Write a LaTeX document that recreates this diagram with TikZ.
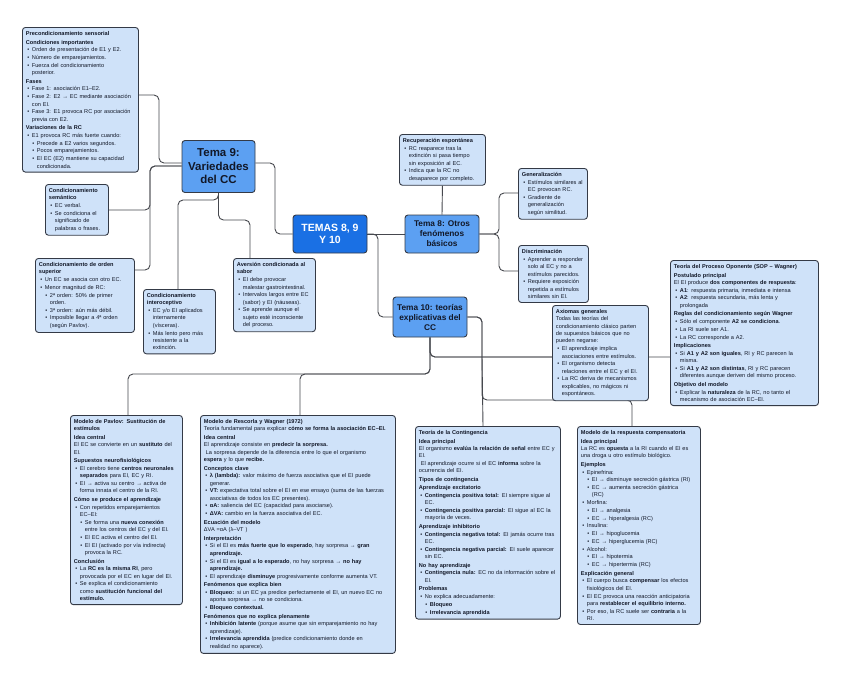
\documentclass[tikz,border=0pt]{standalone}
\usepackage{fontspec}
\setmainfont{Liberation Sans}
\usetikzlibrary{calc}
\definecolor{leafc}{RGB}{207,226,249}
\definecolor{bord}{RGB}{52,58,70}
\definecolor{midc}{RGB}{92,160,242}
\definecolor{deepc}{RGB}{26,112,228}
\definecolor{ink}{RGB}{18,24,40}
\definecolor{wire}{RGB}{70,72,78}
\pgfdeclarelayer{bg}
\pgfsetlayers{bg,main}
\hyphenpenalty=10000
\exhyphenpenalty=10000
\newcommand{\nl}{\newline}
\newcommand{\hd}[1]{\par\vskip1.2pt\noindent\textbf{#1}\par}
\newcommand{\ttl}[1]{\noindent\textbf{#1}\par}
\newcommand{\tx}[1]{\par\noindent #1\par}
\newcommand{\bi}[1]{\par\vskip0.4pt\noindent\hangindent=6pt\hangafter=1\hspace*{1.5pt}\makebox[4.5pt][l]{•}#1\par}
\newcommand{\bii}[1]{\par\vskip0.4pt\noindent\hangindent=11pt\hangafter=1\hspace*{6.5pt}\makebox[4.5pt][l]{•}#1\par}
\newcommand{\leaffont}{\fontsize{5.6}{7.35}\selectfont}
\tikzset{
  leaf/.style={draw=bord, fill=leafc, rounded corners=3pt, line width=0.9pt,
    inner xsep=3.5pt, inner ysep=4pt, anchor=north west, align=left, text=ink,
    font=\leaffont},
  topic/.style={draw=bord, fill=midc, rounded corners=3pt, line width=0.9pt,
    align=center, text=ink, inner sep=2pt},
  root/.style={draw=bord, fill=deepc, rounded corners=3pt, line width=0.9pt,
    align=center, text=white, inner sep=2pt},
  conn/.style={draw=wire, line width=0.9pt, rounded corners=5pt}
}
\begin{document}
\begin{tikzpicture}[x=1pt,y=-1pt]
\useasboundingbox (0,0) rectangle (848,681);
\begin{pgfonlayer}{bg}
\fill[white] (0,0) rectangle (848,681);
\end{pgfonlayer}

% main nodes
\node[root, minimum width=74pt, minimum height=38pt, font=\bfseries\fontsize{10.5}{12.5}\selectfont] (tem) at (330,234) {TEMAS 8, 9\\Y 10};
\node[topic, minimum width=73pt, minimum height=52pt, font=\bfseries\fontsize{11.5}{13.5}\selectfont] (t9) at (218.5,166.5) {Tema 9:\\Variedades\\del CC};
\node[topic, minimum width=74pt, minimum height=38pt, font=\bfseries\fontsize{8.3}{10}\selectfont] (t8) at (442,234) {Tema 8: Otros\\fenómenos\\básicos};
\node[topic, minimum width=74pt, minimum height=40pt, font=\bfseries\fontsize{8.3}{10}\selectfont] (t10) at (430,317) {Tema 10: teorías\\explicativas del\\CC};

% leaves
\node[leaf, text width=109pt] (pre) at (22,27) {%
\ttl{Precondicionamiento sensorial}
\hd{Condiciones importantes}
\bi{Orden de presentación de E1 y E2.}
\bi{Número de emparejamientos.}
\bi{Fuerza del condicionamiento\nl posterior.}
\hd{Fases}
\bi{Fase 1: asociación E1–E2.}
\bi{Fase 2: E2 → EC mediante asociación\nl con EI.}
\bi{Fase 3: E1 provoca RC por asociación\nl previa con E2.}
\hd{Variaciones de la RC}
\bi{E1 provoca RC más fuerte cuando:}
\bii{Precede a E2 varios segundos.}
\bii{Pocos emparejamientos.}
\bii{El EC (E2) mantiene su capacidad\nl condicionada.}};

\node[leaf, text width=56pt] (sem) at (45,184) {%
\ttl{Condicionamiento\nl semántico}
\bi{EC verbal.}
\bi{Se condiciona el\nl significado de\nl palabras o frases.}};

\node[leaf, text width=92pt] (ord) at (35,258) {%
\ttl{Condicionamiento de orden\nl superior}
\bi{Un EC se asocia con otro EC.}
\bi{Menor magnitud de RC:}
\bii{2ª orden: 50\% de primer\nl orden.}
\bii{3ª orden: aún más débil.}
\bii{Imposible llegar a 4ª orden\nl (según Pavlov).}};

\node[leaf, text width=65pt] (int) at (143,289) {%
\ttl{Condicionamiento\nl interoceptivo}
\bi{EC y/o EI aplicados\nl internamente\nl (vísceras).}
\bi{Más lento pero más\nl resistente a la\nl extinción.}};

\node[leaf, text width=75pt] (ave) at (233,258) {%
\ttl{Aversión condicionada al\nl sabor}
\bi{EI debe provocar\nl malestar gastrointestinal.}
\bi{Intervalos largos entre EC\nl (sabor) y EI (náuseas).}
\bi{Se aprende aunque el\nl sujeto esté inconsciente\nl del proceso.}};

\node[leaf, text width=79pt] (rec) at (399,134) {%
\ttl{Recuperación espontánea}
\bi{RC reaparece tras la\nl extinción si pasa tiempo\nl sin exposición al EC.}
\bi{Indica que la RC no\nl desaparece por completo.}};

\node[leaf, text width=62pt] (gen) at (518,168) {%
\ttl{Generalización}
\bi{Estímulos similares al\nl EC provocan RC.}
\bi{Gradiente de\nl generalización\nl según similitud.}};

\node[leaf, text width=63pt] (dis) at (518,245) {%
\ttl{Discriminación}
\bi{Aprender a responder\nl solo al EC y no a\nl estímulos parecidos.}
\bi{Requiere exposición\nl repetida a estímulos\nl similares sin EI.}};

\node[leaf, text width=141pt] (sop) at (670,260) {%
\ttl{Teoría del Proceso Oponente (SOP – Wagner)}
\hd{Postulado principal}
\tx{El EI produce \textbf{dos componentes de respuesta}:}
\bi{\textbf{A1}: respuesta primaria, inmediata e intensa}
\bi{\textbf{A2}: respuesta secundaria, más lenta y\nl prolongada}
\hd{Reglas del condicionamiento según Wagner}
\bi{Sólo el componente \textbf{A2 se condiciona}.}
\bi{La RI suele ser A1.}
\bi{La RC corresponde a A2.}
\hd{Implicaciones}
\bi{Si \textbf{A1 y A2 son iguales}, RI y RC parecen la\nl misma.}
\bi{Si \textbf{A1 y A2 son distintas}, RI y RC parecen\nl diferentes aunque deriven del mismo proceso.}
\hd{Objetivo del modelo}
\bi{Explicar la \textbf{naturaleza} de la RC, no tanto el\nl mecanismo de asociación EC–EI.}};

\node[leaf, text width=89pt] (axi) at (552,305) {%
\ttl{Axiomas generales}
\tx{Todas las teorías del\nl condicionamiento clásico parten\nl de supuestos básicos que no\nl pueden negarse:}
\bi{El aprendizaje implica\nl asociaciones entre estímulos.}
\bi{El organismo detecta\nl relaciones entre el EC y el EI.}
\bi{La RC deriva de mecanismos\nl explicables, no mágicos ni\nl espontáneos.}};

\node[leaf, text width=105pt] (pav) at (70,415) {%
\ttl{Modelo de Pavlov: Sustitución de\nl estímulos}
\hd{Idea central}
\tx{El EC se convierte en un \textbf{sustituto} del\nl EI.}
\hd{Supuestos neurofisiológicos}
\bi{El cerebro tiene \textbf{centros neuronales\nl separados} para EI, EC y RI.}
\bi{EI → activa su centro → activa de\nl forma innata el centro de la RI.}
\hd{Cómo se produce el aprendizaje}
\bi{Con repetidos emparejamientos\nl EC–EI:}
\bii{Se forma una \textbf{nueva conexión}\nl entre los centros del EC y del EI.}
\bii{El EC activa el centro del EI.}
\bii{El EI (activado por vía indirecta)\nl provoca la RC.}
\hd{Conclusión}
\bi{La \textbf{RC es la misma RI}, pero\nl provocada por el EC en lugar del EI.}
\bi{Se explica el condicionamiento\nl como \textbf{sustitución funcional del\nl estímulo.}}};

\node[leaf, text width=188pt] (res) at (200,415) {%
\ttl{Modelo de Rescorla y Wagner (1972)}
\tx{Teoría fundamental para explicar \textbf{cómo se forma la asociación EC–EI.}}
\hd{Idea central}
\tx{El aprendizaje consiste en \textbf{predecir la sorpresa.}}
\tx{\ La sorpresa depende de la diferencia entre lo que el organismo\nl \textbf{espera} y lo que \textbf{recibe.}}
\hd{Conceptos clave}
\bi{\textbf{λ (lambda):} valor máximo de fuerza asociativa que el EI puede\nl generar.}
\bi{\textbf{VT:} expectativa total sobre el EI en ese ensayo (suma de las fuerzas\nl asociativas de todos los EC presentes).}
\bi{\textbf{αA:} saliencia del EC (capacidad para asociarse).}
\bi{\textbf{ΔVA:} cambio en la fuerza asociativa del EC.}
\hd{Ecuación del modelo}
\tx{ΔVA =αA (λ–VT )}
\hd{Interpretación}
\bi{Si el EI es \textbf{más fuerte que lo esperado}, hay sorpresa → \textbf{gran\nl aprendizaje.}}
\bi{Si el EI es \textbf{igual a lo esperado}, no hay sorpresa → \textbf{no hay\nl aprendizaje.}}
\bi{El aprendizaje \textbf{disminuye} progresivamente conforme aumenta VT.}
\hd{Fenómenos que explica bien}
\bi{\textbf{Bloqueo:} si un EC ya predice perfectamente el EI, un nuevo EC no\nl aporta sorpresa → no se condiciona.}
\bi{\textbf{Bloqueo contextual.}}
\hd{Fenómenos que no explica plenamente}
\bi{\textbf{Inhibición latente} (porque asume que sin emparejamiento no hay\nl aprendizaje).}
\bi{\textbf{Irrelevancia aprendida} (predice condicionamiento donde en\nl realidad no aparece).}};

\node[leaf, text width=138pt] (con) at (415,426) {%
\ttl{Teoría de la Contingencia}
\hd{Idea principal}
\tx{El organismo \textbf{evalúa la relación de señal} entre EC y\nl EI.}
\tx{\ El aprendizaje ocurre si el EC \textbf{informa} sobre la\nl ocurrencia del EI.}
\hd{Tipos de contingencia}
\hd{Aprendizaje excitatorio}
\bi{\textbf{Contingencia positiva total:} EI siempre sigue al\nl EC.}
\bi{\textbf{Contingencia positiva parcial:} EI sigue al EC la\nl mayoría de veces.}
\hd{Aprendizaje inhibitorio}
\bi{\textbf{Contingencia negativa total:} EI jamás ocurre tras\nl EC.}
\bi{\textbf{Contingencia negativa parcial:} EI suele aparecer\nl sin EC.}
\hd{No hay aprendizaje}
\bi{\textbf{Contingencia nula:} EC no da información sobre el\nl EI.}
\hd{Problemas}
\bi{No explica adecuadamente:}
\bii{\textbf{Bloqueo}}
\bii{\textbf{Irrelevancia aprendida}}};

\node[leaf, text width=116pt] (com) at (577,426) {%
\ttl{Modelo de la respuesta compensatoria}
\hd{Idea principal}
\tx{La RC es \textbf{opuesta} a la RI cuando el EI es\nl una droga u otro estímulo biológico.}
\hd{Ejemplos}
\bi{Epinefrina:}
\bii{EI → disminuye secreción gástrica (RI)}
\bii{EC → aumenta secreción gástrica\nl (RC)}
\bi{Morfina:}
\bii{EI → analgesia}
\bii{EC → hiperalgesia (RC)}
\bi{Insulina:}
\bii{EI → hipoglucemia}
\bii{EC → hiperglucemia (RC)}
\bi{Alcohol:}
\bii{EI → hipotermia}
\bii{EC → hipertermia (RC)}
\hd{Explicación general}
\bi{El cuerpo busca \textbf{compensar} los efectos\nl fisiológicos del EI.}
\bi{El EC provoca una reacción anticipatoria\nl para \textbf{restablecer el equilibrio interno.}}
\bi{Por eso, la RC suele ser \textbf{contraria} a la\nl RI.}};

\begin{pgfonlayer}{bg}
\draw[conn] (pre.east |- 0,95) -| (159,163) -- (t9.west |- 0,163);
\draw[conn] (t9.west |- 0,166) -| (150,210) -- (sem.east |- 150,210);
\draw[conn] (t9.west |- 0,166) -| (150,270) -- (ord.east |- 150,270);
\draw[conn] (t9.south) |- (178,200) -- (int.north -| 178,0);
\draw[conn] (t9.south) |- (250,220) -- (ave.north -| 250,0);
\draw[conn] (t9.east |- 0,163) -| (275,234) -- (tem.west);
\draw[conn] (tem.east) -- (t8.west);
\draw[conn] (tem.east) -| (378,317) -- (t10.west);
\draw[conn] (t8.north) -- (rec.south);
\draw[conn] (t8.east) -| (499,193) -- (gen.west |- 0,193);
\draw[conn] (t8.east) -| (499,271) -- (dis.west |- 0,271);
\draw[conn] (t10.south) |- (490,357) -- (axi.west |- 0,357);
\draw[conn] (t10.south) |- (490,357) -- (sop.west |- 0,357);
\draw[conn] (t10.east) -| (482,357) -- (483,426);
\draw[conn] (t10.east) -| (482,400) -| (632,426);
\draw[conn] (t10.south) |- (128,374) -- (pav.north -| 128,0);
\draw[conn] (t10.south) |- (300,374) -- (res.north -| 300,0);
\end{pgfonlayer}
\end{tikzpicture}
\end{document}
